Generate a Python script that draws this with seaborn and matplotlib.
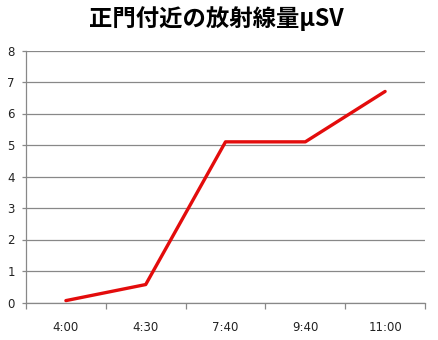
import matplotlib
matplotlib.use("Agg")
import matplotlib.pyplot as plt
import seaborn as sns
import pandas as pd
from matplotlib.ticker import FixedLocator

times = ["4:00", "4:30", "7:40", "9:40", "11:00"]
dose = [0.06, 0.57, 5.1, 5.1, 6.7]
title = "正門付近の放射線量μSV"

sns.set_style("white")
plt.rcParams['font.family'] = ['Noto Sans CJK JP', 'DejaVu Sans']

df = pd.DataFrame({"time": times, "dose": dose})

fig = plt.figure(figsize=(4.39, 3.40), dpi=100)
ax = fig.add_axes([26/439, 1-302.5/340, (425-26)/439, (302.5-50.5)/340])
sns.lineplot(data=df, x="time", y="dose", ax=ax, color="#E30C0C", linewidth=2.4, sort=False)

ax.set_xlim(-0.5, 4.5)
ax.set_ylim(0, 8)
ax.set_yticks(range(0, 9))
ax.yaxis.grid(True, color="#888888", linewidth=0.9)
ax.set_axisbelow(True)
ax.set_xlabel("")
ax.set_ylabel("")
for s in ["top", "right"]:
    ax.spines[s].set_visible(False)
for s in ["left", "bottom"]:
    ax.spines[s].set_color("#888888")
    ax.spines[s].set_linewidth(0.9)

ax.set_xticks(range(len(times)))
ax.set_xticklabels(times, fontsize=8.5, family=['DejaVu Sans'])
ax.xaxis.set_minor_locator(FixedLocator([i - 0.5 for i in range(len(times) + 1)]))
ax.tick_params(axis="x", which="major", length=0, pad=13, colors="#222222")
ax.tick_params(axis="x", which="minor", length=4, color="#888888", width=0.9, bottom=True)
ax.tick_params(axis="y", length=3, color="#888888", width=0.9, pad=5, labelsize=8.5, labelcolor="#222222", left=True)
for lab in ax.get_yticklabels():
    lab.set_family(['DejaVu Sans'])

fig.text(216.5/439, 1-19/340, title, ha="center", va="center", fontsize=16.8,
         fontweight="bold", color="black")

fig.savefig("out.png", dpi=100)
